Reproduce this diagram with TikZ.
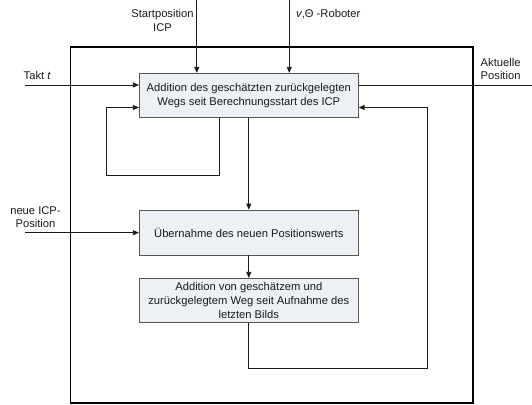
\documentclass[tikz,border=0pt]{standalone}
\usepackage{fontspec}
\setmainfont{Liberation Sans}
\usetikzlibrary{arrows.meta}
\definecolor{boxfill}{HTML}{EDF0F5}
\definecolor{boxline}{HTML}{555555}
\definecolor{ink}{HTML}{1A1A1A}
\begin{document}
\begin{tikzpicture}[x=1pt,y=-1pt,
  every node/.style={font=\fontsize{11.2}{13.2}\selectfont, text=ink, inner sep=0pt},
  procbox/.style={draw=boxline, fill=boxfill, line width=0.8pt, minimum width=219pt, align=center},
  conn/.style={draw=ink, line width=0.8pt},
  arr/.style={conn, -{Triangle[length=6pt,width=5pt]}},
  lbl/.style={align=center}]
\useasboundingbox (0,0) rectangle (532,404);
% outer frame
\node[draw=black, line width=1.6pt, minimum width=402.5pt, minimum height=356pt] (frame) at (271.75,225) {};
% process boxes
\node[procbox, minimum height=44pt, font=\fontsize{11.2}{14}\selectfont] (b1) at (248.8,95.3)
  {Addition des geschätzten zurückgelegten\\Wegs seit Berechnungsstart des ICP};
\node[procbox, minimum height=45pt] (b2) at (248.8,232.5) {Übernahme des neuen Positionswerts};
\node[procbox, minimum height=44.4pt, font=\fontsize{11.2}{13.6}\selectfont] (b3) at (248.8,300.5)
  {Addition von geschätzem und\\zurückgelegtem Weg seit Aufnahme des\\letzten Bilds};
% labels
\node[lbl] (lsp) at (162.5,20.5) {Startposition\\ICP};
\node[anchor=west] (lv) at (296,14) {\textit{v},Θ -Roboter};
\node[anchor=west] (lt) at (23.5,75) {Takt \textit{t}};
\node[anchor=west, align=left] (lap) at (480.5,68.7) {Aktuelle\\Position};
\node[lbl] (lni) at (35.5,217) {neue ICP-\\Position};
% free ends and corners
\coordinate (sp) at (196.8,0);
\coordinate (vr) at (289.3,0);
\coordinate (tk) at (25,85);
\coordinate (ap) at (532,85);
\coordinate (ni) at (25,232.7);
\coordinate (l1) at (219.8,175.3);
\coordinate (l2) at (106.7,107.5);
\coordinate (r1) at (427.3,368.3);
% connectors
\draw[arr] (sp) -- (sp |- b1.north);
\draw[arr] (vr) -- (vr |- b1.north);
\draw[arr] (tk) -- (tk -| b1.west);
\draw[conn] (ap -| b1.east) -- (ap);
\draw[arr] (ni) -- (ni -| b2.west);
\draw[arr] (l1 |- b1.south) -- (l1) -| (l2) -- (l2 -| b1.west);
\draw[arr] (b1.south) -- (b2.north);
\draw[arr] (b2.south) -- (b3.north);
\draw[arr] (b3.south) |- (r1) |- (b1.east |- l2);
\end{tikzpicture}
\end{document}
